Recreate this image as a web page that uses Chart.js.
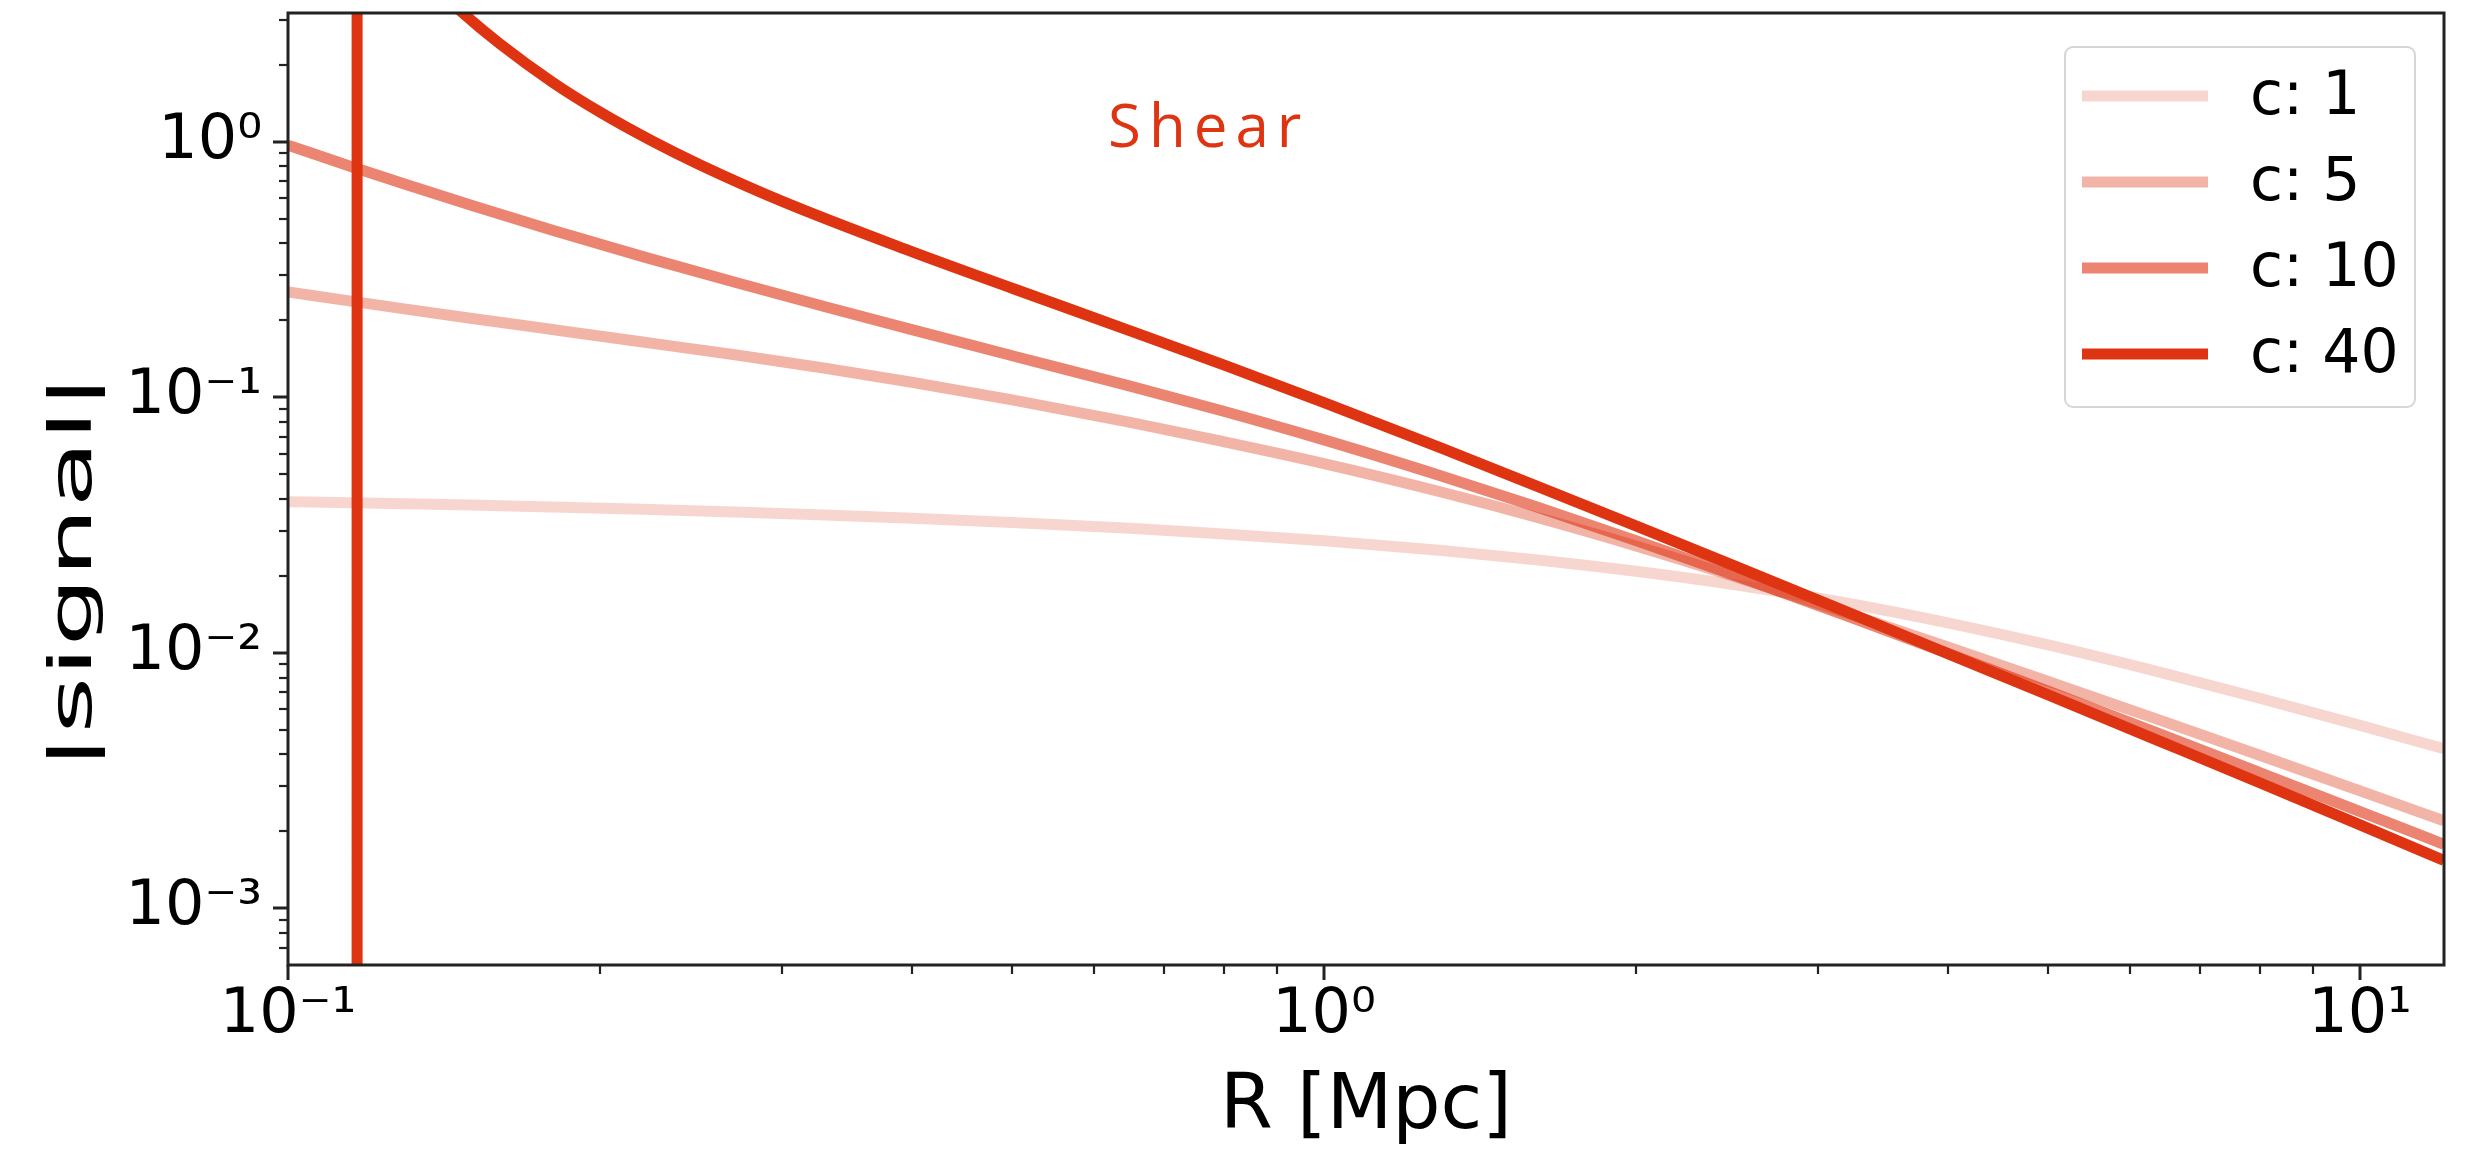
<!DOCTYPE html>
<html>
<head>
    <title>Shear signal</title>
    <script src="https://cdn.jsdelivr.net/npm/chart.js"></script>
    <style>
        html, body { margin: 0; padding: 0; background: #fff; }
    </style>
</head>
<body>
    <canvas id="shearChart" width="2469" height="1154"></canvas>
    <script>
        // radius grid shared by the smooth profiles [Mpc]
        const radius = [0.1, 0.115, 0.13, 0.15, 0.18, 0.22, 0.27, 0.33, 0.4, 0.5, 0.65, 0.8,
                        1, 1.3, 1.6, 2, 2.5, 3.2, 4, 5, 6.5, 8, 10, 12.05];

        const signalC1  = [0.0390, 0.03865, 0.0383, 0.03784, 0.03721, 0.03644, 0.03557, 0.03462, 0.03362, 0.03237, 0.0307, 0.02918,
                           0.02742, 0.02512, 0.02313, 0.02084, 0.01842, 0.01563, 0.0131, 0.01073, 0.00827, 0.00664, 0.0052, 0.00421];
        const signalC5  = [0.2582, 0.2377, 0.2213, 0.2039, 0.1841, 0.1645, 0.1466, 0.1298, 0.1145, 0.0977, 0.0797, 0.0670,
                           0.0550, 0.0425, 0.0340, 0.0262, 0.0198, 0.01429, 0.01054, 0.00773, 0.00534, 0.00397, 0.00288, 0.0022];
        const signalC10 = [0.970, 0.800, 0.680, 0.565, 0.4507, 0.3552, 0.2818, 0.2261, 0.1839, 0.1454, 0.1106, 0.0882,
                           0.0681, 0.0491, 0.03737, 0.02748, 0.0200, 0.01392, 0.00995, 0.00707, 0.00471, 0.0034, 0.00239, 0.00178];

        // c = 40 blows up near R ~ 0.117, so it gets its own grid
        const radiusC40 = [0.1166, 0.1166, 0.122, 0.13, 0.14, 0.1469, 0.16, 0.18, 0.2, 0.225, 0.25, 0.3, 0.4, 0.5, 0.65, 0.8,
                           1, 1.3, 1.6, 2, 2.5, 3.2, 4, 5, 6.5, 8, 10, 12.05];
        const signalC40 = [0.0001, 1000, 7.3, 5.34, 3.89, 3.236, 2.423, 1.710, 1.307, 1.003, 0.811, 0.584, 0.3715, 0.267, 0.182, 0.1338,
                           0.0952, 0.0631, 0.0451, 0.03137, 0.02173, 0.01442, 0.00993, 0.00684, 0.0044, 0.0031, 0.00212, 0.00154];

        const seriesLabels = ['c: 1', 'c: 5', 'c: 10', 'c: 40'];
        const seriesAlpha = [0.2, 0.37, 0.6, 1];

        const xRange = [0.1, 12.05];
        const yRange = [6.1e-4, 3.19];

        const RED = [222, 52, 18];
        const FONT = '"DejaVu Sans", sans-serif';

        const supers = { '-': '⁻', '0': '⁰', '1': '¹', '2': '²', '3': '³', '4': '⁴' };
        function powerLabel(v) {
            const e = Math.log10(v);
            if (Math.abs(e - Math.round(e)) > 1e-9) return '';
            return '10' + String(Math.round(e)).split('').map(ch => supers[ch]).join('');
        }

        function toPoints(xs, ys) {
            return xs.map((x, i) => ({ x: x, y: ys[i] }));
        }

        function rgba(a) {
            return `rgba(${RED[0]}, ${RED[1]}, ${RED[2]}, ${a})`;
        }

        const seriesData = [
            toPoints(radius, signalC1),
            toPoints(radius, signalC5),
            toPoints(radius, signalC10),
            toPoints(radiusC40, signalC40)
        ];

        // listed last-to-first so that c: 40 ends up on top
        const datasets = [3, 2, 1, 0].map(i => ({
            label: seriesLabels[i],
            data: seriesData[i],
            borderColor: rgba(seriesAlpha[i]),
            borderWidth: 11,
            pointRadius: 0,
            fill: false,
            clip: 0,
            cubicInterpolationMode: 'monotone'
        }));

        // frame, tick marks, y label, annotation and legend, drawn like matplotlib
        const axesDecor = {
            id: 'axesDecor',
            afterDatasetsDraw(chart) {
                const ctx = chart.ctx;
                const area = chart.chartArea;
                const xs = chart.scales.x;
                const ys = chart.scales.y;
                ctx.save();

                // tick marks (outward, major on decades)
                ctx.strokeStyle = '#222';
                for (let d = -4; d <= 1; d++) {
                    for (let k = 1; k <= 9; k++) {
                        const v = k * Math.pow(10, d);
                        const len = k === 1 ? 15 : 9;
                        ctx.lineWidth = k === 1 ? 3 : 2.2;
                        if (v >= xRange[0] && v <= xRange[1]) {
                            const px = Math.round(xs.getPixelForValue(v));
                            ctx.beginPath();
                            ctx.moveTo(px, area.bottom);
                            ctx.lineTo(px, area.bottom + len);
                            ctx.stroke();
                        }
                        if (v >= yRange[0] && v <= yRange[1]) {
                            const py = Math.round(ys.getPixelForValue(v));
                            ctx.beginPath();
                            ctx.moveTo(area.left, py);
                            ctx.lineTo(area.left - len, py);
                            ctx.stroke();
                        }
                    }
                }

                // spines
                ctx.lineWidth = 3;
                ctx.strokeRect(area.left, area.top, area.right - area.left, area.bottom - area.top);

                // y axis label
                ctx.fillStyle = '#000';
                ctx.translate(76, 572);
                ctx.rotate(-Math.PI / 2);
                ctx.scale(1.44, 0.78);
                ctx.font = '76px ' + FONT;
                ctx.textAlign = 'center';
                ctx.textBaseline = 'middle';
                ctx.fillText('|signal|', 0, 0);
                ctx.setTransform(1, 0, 0, 1, 0, 0);

                // annotation
                ctx.fillStyle = rgba(1);
                ctx.font = '60px "Open Sans", sans-serif';
                ctx.letterSpacing = '8px';
                ctx.textAlign = 'left';
                ctx.textBaseline = 'alphabetic';
                ctx.fillText('Shear', 1108, 147);
                ctx.letterSpacing = '0px';

                // legend box
                const box = { x: 2065, y: 47, w: 350, h: 360 };
                ctx.beginPath();
                ctx.roundRect(box.x, box.y, box.w, box.h, 8);
                ctx.fillStyle = 'rgba(255, 255, 255, 0.8)';
                ctx.fill();
                ctx.strokeStyle = '#d6d6d6';
                ctx.lineWidth = 2;
                ctx.stroke();

                ctx.font = '60px ' + FONT;
                ctx.textBaseline = 'middle';
                seriesLabels.forEach((label, i) => {
                    const y = 96 + i * 86;
                    ctx.strokeStyle = rgba(seriesAlpha[i]);
                    ctx.lineWidth = 11;
                    ctx.beginPath();
                    ctx.moveTo(2082, y);
                    ctx.lineTo(2208, y);
                    ctx.stroke();
                    ctx.fillStyle = '#000';
                    ctx.fillText(label, 2250, y + 2);
                });

                ctx.restore();
            }
        };

        const ctx = document.getElementById('shearChart').getContext('2d');
        const chart = new Chart(ctx, {
            type: 'line',
            data: { datasets: datasets },
            options: {
                responsive: false,
                animation: false,
                devicePixelRatio: 1,
                layout: { padding: { top: 13, right: 25, left: 0, bottom: 0 } },
                plugins: {
                    legend: { display: false },
                    tooltip: { enabled: false }
                },
                scales: {
                    x: {
                        type: 'logarithmic',
                        min: xRange[0],
                        max: xRange[1],
                        grid: { display: false, drawTicks: false },
                        border: { display: false },
                        ticks: {
                            autoSkip: false,
                            maxRotation: 0,
                            padding: 14,
                            color: '#000',
                            font: { family: FONT, size: 62 },
                            callback: v => powerLabel(v)
                        },
                        title: {
                            display: true,
                            text: 'R [Mpc]',
                            color: '#000',
                            font: { family: FONT, size: 76 },
                            padding: 0
                        },
                        afterFit: s => {
                            s.height = 189;
                            s.paddingLeft = 0;
                            s.paddingRight = 0;
                        }
                    },
                    y: {
                        type: 'logarithmic',
                        min: yRange[0],
                        max: yRange[1],
                        grid: { display: false, drawTicks: false },
                        border: { display: false },
                        ticks: {
                            autoSkip: false,
                            padding: 26,
                            color: '#000',
                            font: { family: FONT, size: 62 },
                            callback: v => powerLabel(v)
                        },
                        afterFit: s => {
                            s.width = 288;
                            s.paddingTop = 0;
                            s.paddingBottom = 0;
                        }
                    }
                }
            },
            plugins: [axesDecor]
        });
    </script>
</body>
</html>
